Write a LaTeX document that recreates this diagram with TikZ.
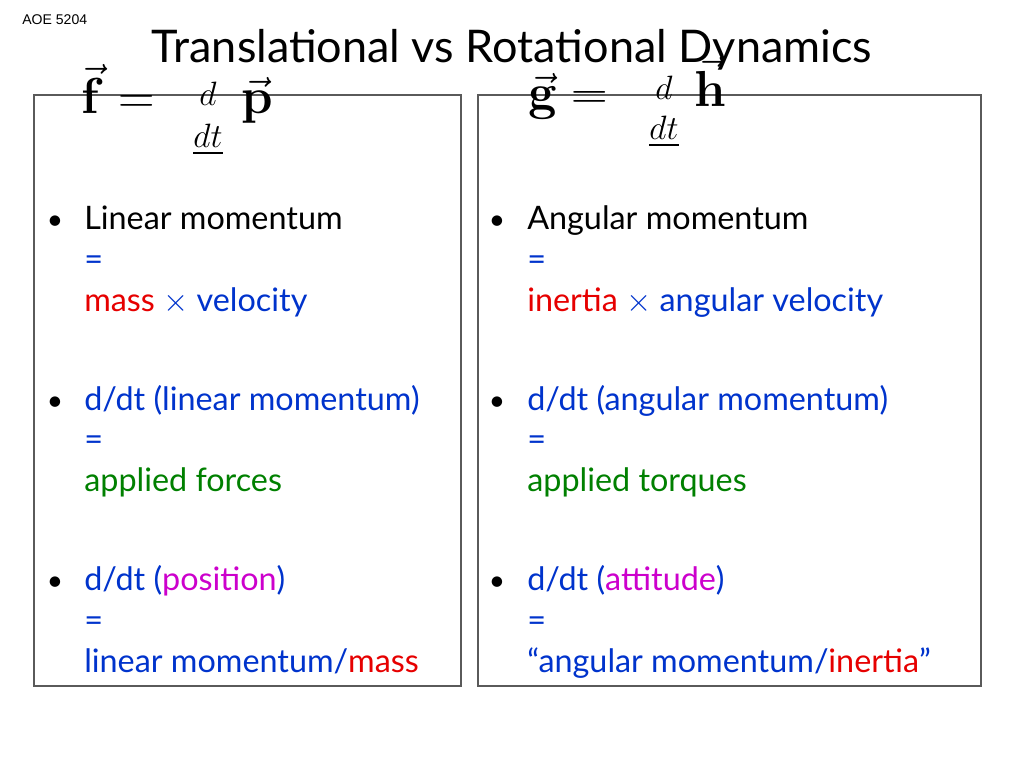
\RequirePackage{fix-cm}
\documentclass[tikz,border=0pt]{standalone}
\usepackage{amsmath}
\usepackage[no-math]{fontspec}
\setmainfont{Lato}
\usetikzlibrary{positioning}
\definecolor{eqblue}{RGB}{0,51,204}
\definecolor{eqred}{RGB}{230,0,0}
\definecolor{eqgreen}{RGB}{0,128,0}
\definecolor{eqmag}{RGB}{204,0,204}
\definecolor{boxgray}{RGB}{90,90,90}
\tikzset{
  panel/.style={draw=boxgray, line width=0.9pt},
  txt/.style={anchor=base west, inner sep=0pt, font=\fontsize{23}{27}\selectfont},
  dot/.style={anchor=base, inner sep=0pt, font=\fontsize{20}{24}\selectfont},
  bigmath/.style={inner sep=0pt, font=\fontsize{36}{40}\selectfont},
  smallmath/.style={inner sep=0pt, font=\fontsize{24}{28}\selectfont}
}
\begin{document}
\begin{tikzpicture}[x=0.025cm, y=-0.025cm]
  \useasboundingbox (0,0) rectangle (1024,768);
  % panels
  \draw[panel] (34,95) rectangle (461,686);
  \draw[panel] (478,95) rectangle (981,686);
  % header
  \node[inner sep=0pt, font=\fontsize{10}{12}\selectfont, anchor=base west] (course) at (22,25) {\fontspec{Liberation Sans}AOE 5204};
  \node[inner sep=0pt, anchor=base, font=\fontsize{32}{36}\selectfont] (title) at (512,63) {Translational vs Rotational Dynamics};
  % left equation
  \node[bigmath, anchor=base] (fvec) at (118,114) {$\vec{\mathbf{f}} =$};
  \node[smallmath, anchor=base] (fd) at (208,106) {$d$};
  \node[smallmath, anchor=base] (fdt) at (208,148) {$\underline{dt}$};
  \node[bigmath, anchor=base] (pvec) at (257,114) {$\vec{\mathbf{p}}$};
  % right equation
  \node[bigmath, anchor=base] (gvec) at (568,110) {$\vec{\mathbf{g}} =$};
  \node[smallmath, anchor=base] (gd) at (664,100) {$d$};
  \node[smallmath, anchor=base] (gdt) at (664,140) {$\underline{dt}$};
  \node[bigmath, anchor=base] (hvec) at (710,107) {$\vec{\mathbf{h}}$};
  % left bullets
  \foreach \yy in {229,410,590} \node[dot] at (55,\yy) {•};
  \node[txt] (l1) at (84,229) {Linear momentum};
  \node[txt, text=eqblue] (l2) at (84,270) {=};
  \node[txt] (l3) at (84,311) {\textcolor{eqred}{mass} \textcolor{eqblue}{$\times$ velocity}};
  \node[txt, text=eqblue] (l4) at (84,410) {d/dt (linear momentum)};
  \node[txt, text=eqblue] (l5) at (84,450) {=};
  \node[txt, text=eqgreen] (l6) at (84,491) {applied forces};
  \node[txt, text=eqblue] (l7) at (84,590) {d/dt (\textcolor{eqmag}{position})};
  \node[txt, text=eqblue] (l8) at (84,631) {=};
  \node[txt, text=eqblue] (l9) at (84,672) {linear momentum/\textcolor{eqred}{mass}};
  % right bullets
  \foreach \yy in {229,410,590} \node[dot] at (497,\yy) {•};
  \node[txt] (r1) at (527,229) {Angular momentum};
  \node[txt, text=eqblue] (r2) at (527,270) {=};
  \node[txt] (r3) at (527,311) {\textcolor{eqred}{inertia} \textcolor{eqblue}{$\times$ angular velocity}};
  \node[txt, text=eqblue] (r4) at (527,410) {d/dt (angular momentum)};
  \node[txt, text=eqblue] (r5) at (527,450) {=};
  \node[txt, text=eqgreen] (r6) at (527,491) {applied torques};
  \node[txt, text=eqblue] (r7) at (527,590) {d/dt (\textcolor{eqmag}{attitude})};
  \node[txt, text=eqblue] (r8) at (527,631) {=};
  \node[txt, text=eqblue] (r9) at (527,672) {“angular momentum/\textcolor{eqred}{inertia}”};
\end{tikzpicture}
\end{document}
